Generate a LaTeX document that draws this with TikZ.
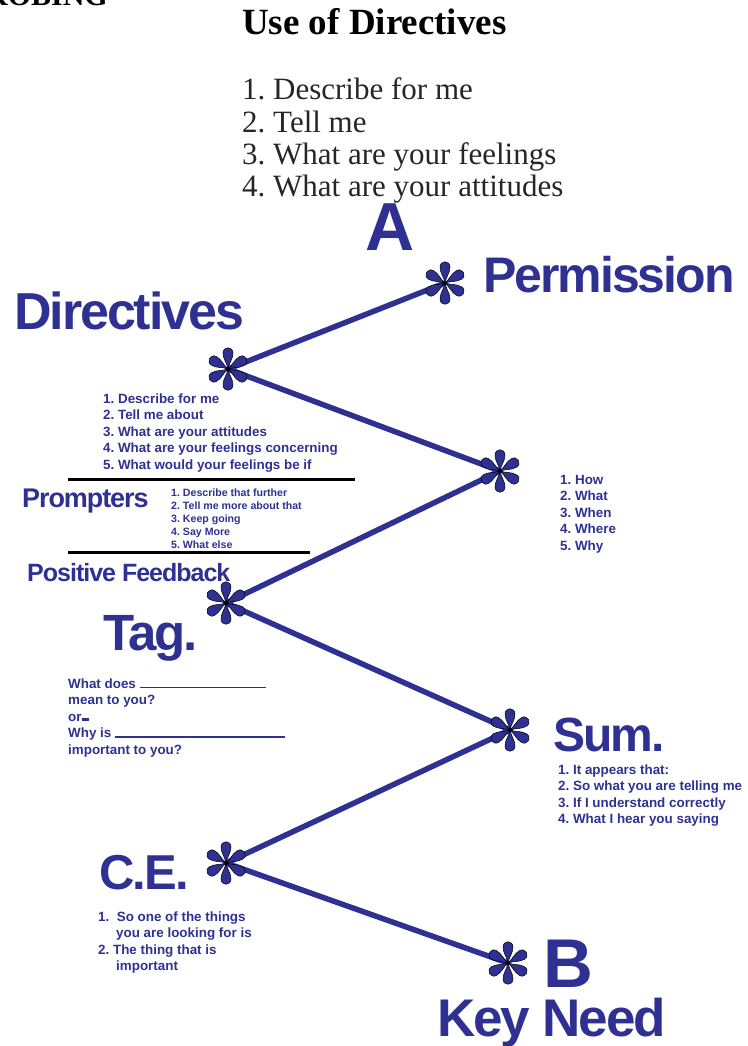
\documentclass[tikz,border=0pt]{standalone}
\usepackage{fontspec}
\setmainfont{Liberation Serif}
\setsansfont{Liberation Sans}
\newfontfamily\heavysans[LetterSpace=-4]{Liberation Sans Bold}
\definecolor{ink}{HTML}{2E3192}

\tikzset{
  blossom/.pic={
    \foreach \a in {0,60,...,300}
      \filldraw[fill=ink, draw=black, line width=0.5pt, rotate=\a]
        (0,0) .. controls (-1,6) and (-5,10) .. (-5,16)
        .. controls (-5,23) and (5,23) .. (5,16)
        .. controls (5,10) and (1,6) .. (0,0);
  }
}

\begin{document}
\begin{tikzpicture}[x=1pt, y=-1pt, every node/.style={inner sep=0pt, text=ink, anchor=base west},
    bigword/.style={font=\heavysans\fontsize{#1}{#1}\selectfont},
    itemtext/.style={font=\sffamily\bfseries\fontsize{13.4}{16}\selectfont},
    tinytext/.style={font=\sffamily\bfseries\fontsize{10.6}{13}\selectfont},
    zigzag/.style={draw=ink, line width=5.5pt, line join=round}]
\clip (0,0) rectangle (747,1046);

				% Heading
				\node (probing) [anchor=base east, text=black, font=\bfseries\fontsize{30}{30}\selectfont] at (108,6) {PROBING};
				\node (heading) [text=black, font=\bfseries\fontsize{37}{37}\selectfont] at (242,35) {Use of Directives};
				\foreach \txt [count=\i] in {Describe for me, Tell me, What are your feelings, What are your attitudes}
					\node (use\i) [text=black!85, font=\fontsize{31}{31}\selectfont] at (242,68+32*\i) {\i.\ \txt};

				% Stars
				\coordinate (permission) at (445,283);
				\coordinate (directives) at (228,369);
				\coordinate (questions) at (500,471);
				\coordinate (tag) at (226,603);
				\coordinate (sum) at (510,730);
				\coordinate (ce) at (226,863);
				\coordinate (need) at (508,963);

				% Big labels
				\node (atext) [bigword=68] at (365,250) {A};
				\node (permissiontext) [bigword=50] at (483,292) {Permission};
				\node (directivestext) [bigword=52] at (14,329) {Directives};
				\node (prompterstext) [bigword=27] at (22,507) {Prompters};
				\node (feedbacktext) [bigword=25] at (27,581) {Positive Feedback};
				\node (tagtext) [bigword=51] at (103,650) {Tag.};
				\node (sumtext) [bigword=48] at (553,751) {Sum.};
				\node (cetext) [bigword=49] at (99,889) {C.E.};
				\node (btext) [bigword=69] at (543,987) {B};
				\node (needtext) [bigword=53] at (437,1036) {Key Need};

				% Lists
				\foreach \txt [count=\i] in {Describe for me, Tell me about, What are your attitudes, What are your feelings concerning, What would your feelings be if}
					\node (dir\i) [itemtext] at (103,386.5+16.5*\i) {\i.\ \txt};
				\foreach \txt [count=\i] in {Describe that further, Tell me more about that, Keep going, Say More, What else}
					\node (prompt\i) [tinytext] at (171,482.8+13.2*\i) {\i.\ \txt};
				\foreach \txt [count=\i] in {How, What, When, Where, Why}
					\node (ask\i) [itemtext] at (560,467.5+16.5*\i) {\i.\ \txt};
				\foreach \txt [count=\i] in {It appears that:, So what you are telling me, If I understand correctly, What I hear you saying}
					\node (sum\i) [itemtext] at (558,757.5+16.5*\i) {\i.\ \txt};

				\node (tag1) [itemtext] at (68,688) {What does \rule{126pt}{1.4pt}};
				\node (tag2) [itemtext] at (68,704.5) {mean to you?};
				\node (tag3) [itemtext] at (68,721) {or\rule{7pt}{2.6pt}};
				\node (tag4) [itemtext] at (68,737.5) {Why is \rule{170pt}{1.4pt}};
				\node (tag5) [itemtext] at (68,754) {important to you?};

				\node (ce1) [itemtext] at (98,921) {1.\ \ So one of the things};
				\node (ce2) [itemtext] at (116,937.5) {you are looking for is};
				\node (ce3) [itemtext] at (98,954) {2.\ The thing that is};
				\node (ce4) [itemtext] at (116,970.5) {important};

				% Rules
				\draw[line width=3pt] (68,479) -- (355,479);
				\draw[line width=3pt] (68,552) -- (310,552);

				% Zigzag
				\draw[zigzag] (permission) -- (directives) -- (questions) -- (tag) -- (sum) -- (ce) -- (need);
				\foreach \s in {permission, directives, questions, tag, sum, ce, need}
					\pic at (\s) {blossom};
\end{tikzpicture}
\end{document}
